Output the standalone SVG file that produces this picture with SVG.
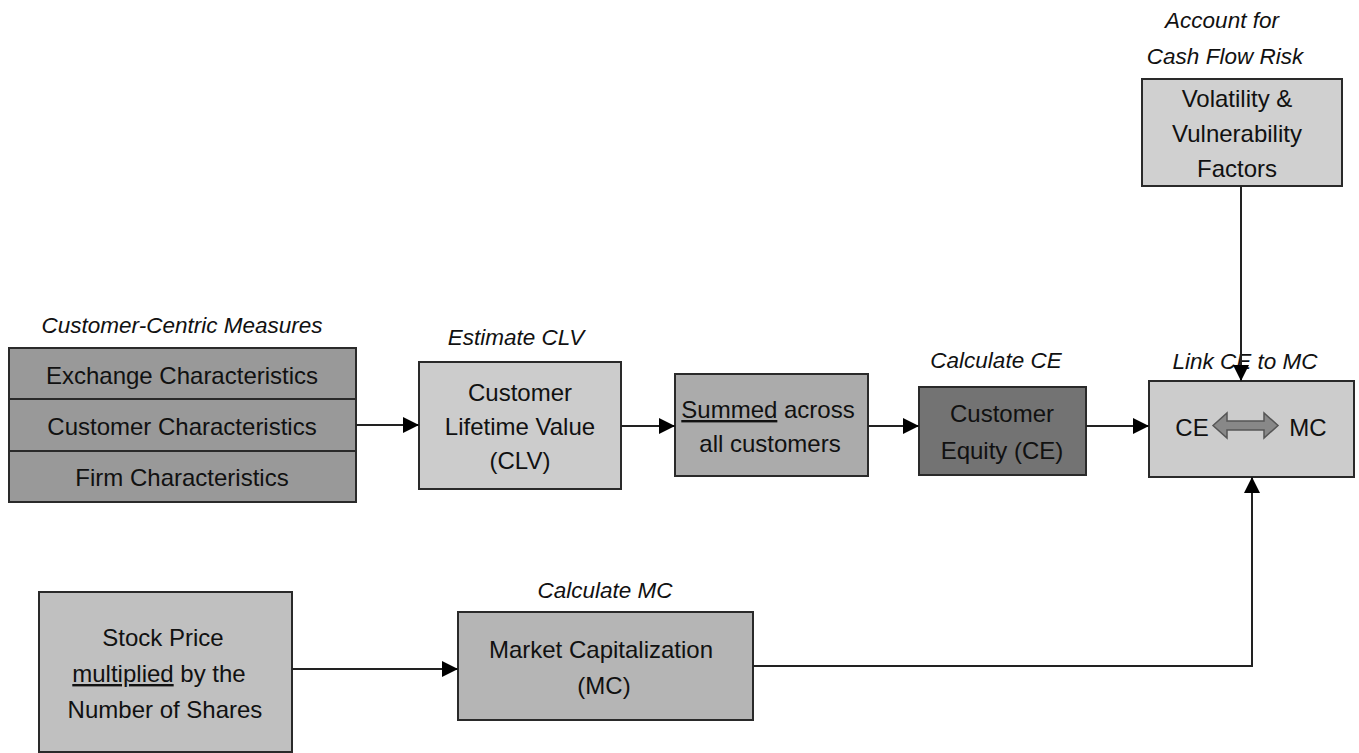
<svg xmlns="http://www.w3.org/2000/svg" width="1359" height="753" viewBox="0 0 1359 753">
<style>
  text { font-family: "Liberation Sans", Arial, sans-serif; fill: #111; }
  .t { font-size: 24px; text-anchor: middle; }
  .lbl { font-size: 22.5px; font-style: italic; text-anchor: middle; }
  .box { stroke: #2a2a2a; stroke-width: 2; }
  .con { fill: none; stroke: #222; stroke-width: 2; }
  .u { text-decoration: underline; }
</style>
<defs>
  <marker id="ah" viewBox="0 0 16 16" markerWidth="16" markerHeight="16" refX="16" refY="8" orient="auto" markerUnits="userSpaceOnUse">
    <path d="M0,0 L16,8 L0,16 Z" fill="#000"/>
  </marker>
</defs>
<rect width="1359" height="753" fill="#fff"/>

<g id="customer-centric">
  <text class="lbl" x="182" y="333">Customer-Centric Measures</text>
  <rect class="box" x="9" y="348" width="347" height="51" fill="#999999"/>
  <rect class="box" x="9" y="399" width="347" height="52" fill="#999999"/>
  <rect class="box" x="9" y="451" width="347" height="51" fill="#999999"/>
  <text class="t" x="182" y="384">Exchange Characteristics</text>
  <text class="t" x="182" y="435">Customer Characteristics</text>
  <text class="t" x="182" y="486">Firm Characteristics</text>
</g>

<g id="clv">
  <text class="lbl" x="516" y="345">Estimate CLV</text>
  <rect class="box" x="419" y="362" width="202" height="127" fill="#cccccc"/>
  <text class="t" x="520" y="401">Customer</text>
  <text class="t" x="520" y="435">Lifetime Value</text>
  <text class="t" x="520" y="469">(CLV)</text>
</g>

<g id="summed">
  <rect class="box" x="675" y="374" width="193" height="102" fill="#ababab"/>
  <text class="t" x="768" y="418"><tspan class="u">Summed</tspan> across</text>
  <text class="t" x="770" y="452">all customers</text>
</g>

<g id="ce">
  <text class="lbl" x="996" y="368">Calculate CE</text>
  <rect class="box" x="919" y="387" width="167" height="88" fill="#737373"/>
  <text class="t" x="1002" y="422">Customer</text>
  <text class="t" x="1002" y="459">Equity (CE)</text>
</g>

<g id="link">
  <text class="lbl" x="1245" y="369">Link CE to MC</text>
  <rect class="box" x="1149" y="381" width="205" height="96" fill="#cccccc"/>
  <text class="t" x="1192" y="436">CE</text>
  <text class="t" x="1308" y="436">MC</text>
  <path d="M1213,425.5 L1227,413 L1227,421 L1264,421 L1264,413 L1278,425.5 L1264,438 L1264,430 L1227,430 L1227,438 Z" fill="#888888" stroke="#555555" stroke-width="1.5"/>
</g>

<g id="volatility">
  <text class="lbl" x="1222" y="28">Account for</text>
  <text class="lbl" x="1225" y="64">Cash Flow Risk</text>
  <rect class="box" x="1142" y="79" width="200" height="107" fill="#d0d0d0"/>
  <text class="t" x="1237" y="107">Volatility &amp;</text>
  <text class="t" x="1237" y="142">Vulnerability</text>
  <text class="t" x="1237" y="177">Factors</text>
</g>

<g id="stock">
  <rect class="box" x="39" y="592" width="253" height="160" fill="#c0c0c0"/>
  <text class="t" x="163" y="646">Stock Price</text>
  <text class="t" x="159" y="682"><tspan class="u">multiplied</tspan> by the</text>
  <text class="t" x="165" y="718">Number of Shares</text>
</g>

<g id="mc">
  <text class="lbl" x="605" y="598">Calculate MC</text>
  <rect class="box" x="458" y="612" width="295" height="108" fill="#b5b5b5"/>
  <text class="t" x="601" y="658">Market Capitalization</text>
  <text class="t" x="604" y="694">(MC)</text>
</g>

<g id="connectors">
  <line class="con" x1="356" y1="425" x2="419" y2="425" marker-end="url(#ah)"/>
  <line class="con" x1="621" y1="426" x2="675" y2="426" marker-end="url(#ah)"/>
  <line class="con" x1="868" y1="426" x2="919" y2="426" marker-end="url(#ah)"/>
  <line class="con" x1="1086" y1="426" x2="1149" y2="426" marker-end="url(#ah)"/>
  <line class="con" x1="1241" y1="186" x2="1241" y2="381" marker-end="url(#ah)"/>
  <line class="con" x1="292" y1="669" x2="458" y2="669" marker-end="url(#ah)"/>
  <polyline class="con" points="753,666 1252,666 1252,477" marker-end="url(#ah)"/>
</g>
</svg>
